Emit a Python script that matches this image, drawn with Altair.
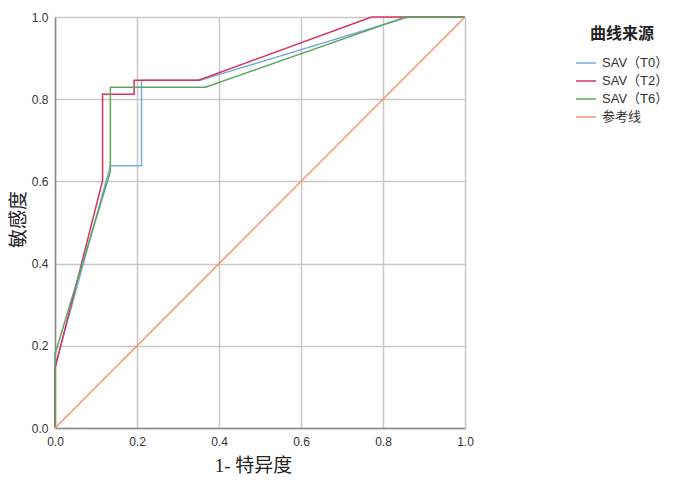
import altair as alt
import pandas as pd

series_names = ["SAV（T0）", "SAV（T2）", "SAV（T6）", "参考线"]
colors = ["#78abe2", "#d6335f", "#5ea65e", "#f7946f"]

t0_x = [0.0, 0.0, 0.135, 0.211, 0.211, 0.354, 0.862, 1.0]
t0_y = [0.0, 0.15, 0.638, 0.638, 0.846, 0.846, 1.0, 1.0]

t2_x = [0.0, 0.0, 0.116, 0.116, 0.193, 0.193, 0.35, 0.772, 1.0]
t2_y = [0.0, 0.145, 0.602, 0.812, 0.812, 0.846, 0.846, 1.0, 1.0]

t6_x = [0.0, 0.0, 0.135, 0.135, 0.367, 0.855, 1.0]
t6_y = [0.0, 0.18, 0.624, 0.829, 0.829, 1.0, 1.0]

ref_x = [0.0, 1.0]
ref_y = [0.0, 1.0]

ticks = [0.0, 0.2, 0.4, 0.6, 0.8, 1.0]

rows = []
for name, xs, ys in zip(series_names, [t0_x, t2_x, t6_x, ref_x], [t0_y, t2_y, t6_y, ref_y]):
    for i, (a, b) in enumerate(zip(xs, ys)):
        rows.append({"series": name, "x": a, "y": b, "order": i})
df = pd.DataFrame(rows)

axis_common = dict(
    values=ticks,
    format=".1f",
    grid=True,
    gridColor="#c8c8c8",
    gridWidth=1.5,
    ticks=False,
    labelFlush=False,
    domainColor="#8a8a8a",
    domainWidth=1.5,
    labelFont="Liberation Sans",
    labelFontSize=12,
    labelColor="#333333",
    titleFont="Liberation Serif, Noto Sans CJK SC",
    titleFontWeight="normal",
    titleColor="#222222",
)

chart = alt.Chart(df).mark_line(strokeWidth=1.5).encode(
    x=alt.X("x:Q", scale=alt.Scale(domain=[0, 1], nice=False),
            axis=alt.Axis(title="1- 特异度", labelPadding=8, titleFontSize=19,
                          titleX=198, titleY=37, titleAlign="center",
                          titleBaseline="middle", **axis_common)),
    y=alt.Y("y:Q", scale=alt.Scale(domain=[0, 1], nice=False),
            axis=alt.Axis(title="敏感度", labelPadding=7, titleFontSize=19,
                          titleX=-37, titleY=202, titleAngle=-90,
                          titleAlign="center", titleBaseline="middle",
                          **axis_common)),
    color=alt.Color("series:N",
                    scale=alt.Scale(domain=series_names, range=colors),
                    sort=series_names,
                    legend=alt.Legend(
                        title="曲线来源",
                        orient="none",
                        legendX=520,
                        legendY=9,
                        padding=0,
                        titleAnchor="middle",
                        titleFont="Noto Sans CJK SC",
                        titleFontSize=16,
                        titleFontWeight="bold",
                        titleColor="#222222",
                        titlePadding=10,
                        symbolType="stroke",
                        symbolSize=400,
                        symbolStrokeWidth=1.5,
                        labelFont="Liberation Sans, Noto Sans CJK SC",
                        labelFontSize=13,
                        labelColor="#333333",
                        labelOffset=5,
                        labelLimit=200,
                        rowPadding=0,
                    )),
    order="order:Q",
    detail="series:N",
).properties(
    width=410,
    height=411,
    autosize=alt.AutoSizeParams(type="none"),
    padding={"left": 47, "top": 9, "right": 204, "bottom": 48},
).configure_view(stroke=None)

chart.save("out.html", embed_options={"renderer": "svg", "actions": False})
